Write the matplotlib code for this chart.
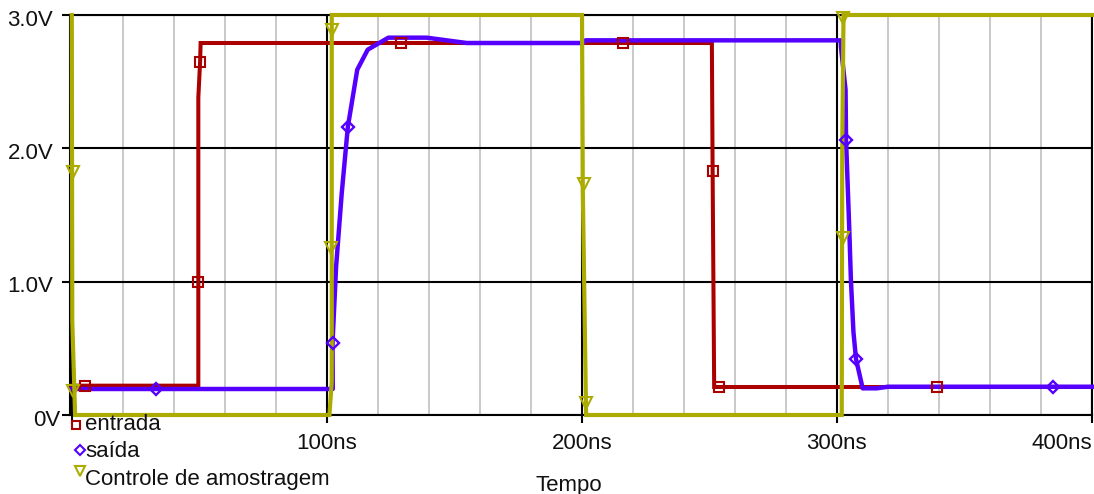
import matplotlib
matplotlib.use("Agg")
import matplotlib.pyplot as plt
from matplotlib.lines import Line2D
from matplotlib.ticker import MultipleLocator
from matplotlib.transforms import ScaledTranslation

plt.rcParams["font.family"] = ["Liberation Sans", "DejaVu Sans"]

# ---- waveforms (time in ns, voltage in V) ----
entrada_t = [0, 49.7, 49.7, 50.4, 50.6, 251.0, 251.3, 251.9, 400]
entrada_v = [0.22, 0.22, 2.38, 2.65, 2.79, 2.79, 1.80, 0.21, 0.21]

saida_t = [0, 102.4, 102.3, 103.7, 105.9, 108.3, 112.0, 116.1, 124.2, 139.2,
           154.9, 200.5, 201.5, 301.5, 301.6, 303.4, 303.6, 304.9, 305.5,
           306.5, 307.5, 310.1, 315.6, 320.0, 400]
saida_v = [0.195, 0.195, 0.54, 1.11, 1.66, 2.16, 2.59, 2.74, 2.83, 2.83,
           2.79, 2.79, 2.81, 2.81, 2.76, 2.44, 2.06, 1.37, 1.01,
           0.62, 0.42, 0.20, 0.20, 0.212, 0.212]

controle_t = [0.1, 0.3, 1.4, 101.1, 102.0, 102.0, 200.1, 200.4, 201.7,
              301.9, 302.1, 302.6, 400]
controle_v = [3.0, 0.7, 0.0, 0.0, 0.25, 3.0, 3.0, 1.7, 0.0,
              0.0, 2.0, 3.0, 3.0]

# ---- trace markers ----
entrada_mk_t = [5.3, 49.7, 50.4, 129.2, 216.2, 251.4, 253.8, 339.2]
entrada_mk_v = [0.22, 1.0, 2.65, 2.79, 2.79, 1.83, 0.21, 0.21]

saida_mk_t = [33.1, 102.3, 108.3, 303.6, 307.5, 384.8]
saida_mk_v = [0.195, 0.54, 2.16, 2.06, 0.42, 0.212]

controle_mk_t = [0.4, 0.6, 102.2, 101.8, 200.9, 201.7, 302.4, 302.3]
controle_mk_v = [1.82, 0.18, 2.89, 1.25, 1.73, 0.09, 2.98, 1.33]

# ---- axis ticks ----
x_ticks = [0, 100, 200, 300, 400]
x_tick_labels = ["", "100ns", "200ns", "300ns", "400ns"]
y_ticks = [0, 1, 2, 3]
y_tick_labels = ["0V", "1.0V", "2.0V", "3.0V"]

series_names = ["entrada", "saída", "Controle de amostragem"]
RED = "#AA0000"
BLUE = "#5500FF"
YELLOW = "#ABAB00"
TXT = "#111111"
FS = 16

W, H = 1094, 494
fig = plt.figure(figsize=(W / 100, H / 100), dpi=100)
ax = fig.add_axes([70 / W, (H - 415) / H, 1022 / W, 400 / H])

ax.set_xlim(-0.6, 400)
ax.set_ylim(0, 3)

ax.plot(entrada_t, entrada_v, color=RED, lw=2.9, zorder=3, clip_on=False,
        solid_joinstyle="miter")
ax.plot(saida_t, saida_v, color=BLUE, lw=3.2, zorder=4, clip_on=False)
ax.plot(controle_t, controle_v, color=YELLOW, lw=3.0, zorder=5, clip_on=False,
        solid_joinstyle="miter")

ax.plot(entrada_mk_t, entrada_mk_v, ls="none", marker="s", ms=7,
        mfc="none", mec=RED, mew=1.5, zorder=6, clip_on=False)
ax.plot(saida_mk_t, saida_mk_v, ls="none", marker="D", ms=6,
        mfc="none", mec=BLUE, mew=1.7, zorder=6, clip_on=False)
ax.plot(controle_mk_t, controle_mk_v, ls="none", marker="v", ms=8,
        mfc="none", mec=YELLOW, mew=1.5, zorder=6, clip_on=False)

# grid
ax.set_xticks(x_ticks)
ax.set_xticklabels(x_tick_labels)
ax.set_yticks(y_ticks)
ax.set_yticklabels(y_tick_labels)
ax.xaxis.set_minor_locator(MultipleLocator(20))
ax.set_axisbelow(True)
ax.grid(which="minor", axis="x", color="#C0C0C0", lw=1.2)
ax.grid(which="major", color="black", lw=1.5)
for s in ax.spines.values():
    s.set_linewidth(1.5)
    s.set_color("black")

ax.tick_params(axis="both", which="major", direction="out", length=6,
               width=1.5, color="black", labelsize=FS, labelcolor=TXT)
ax.tick_params(axis="x", which="major", pad=7)
ax.tick_params(axis="y", which="major", pad=6)
ax.tick_params(which="minor", length=0)

# nudge tick labels
for i, lab in enumerate(ax.get_yticklabels()):
    dx = 7 / 100 if i == 0 else 0
    lab.set_transform(lab.get_transform() + ScaledTranslation(dx, -2.7 / 100, fig.dpi_scale_trans))
ax.get_xticklabels()[-1].set_horizontalalignment("right")

# axis title
fig.text(569 / W, 1 - 491 / H, "Tempo", ha="center", va="baseline",
         fontsize=FS, color=TXT)

# legend entries under the plot
legend_rows = [
    (RED, "s", 6.3, 76, 424.5, 430),
    (BLUE, "D", 5.3, 80, 450, 456.7),
    (YELLOW, "v", 6.5, 80, 471, 485),
]
for name, (col, mk, ms, mx, my, base) in zip(series_names, legend_rows):
    fig.add_artist(Line2D([mx / W], [1 - my / H], transform=fig.transFigure,
                          ls="none", marker=mk, ms=ms, mfc="none", mec=col,
                          mew=1.5))
    fig.text(85 / W, 1 - base / H, name, ha="left", va="baseline",
             fontsize=FS, color=TXT)

fig.savefig("out.png", dpi=100)
